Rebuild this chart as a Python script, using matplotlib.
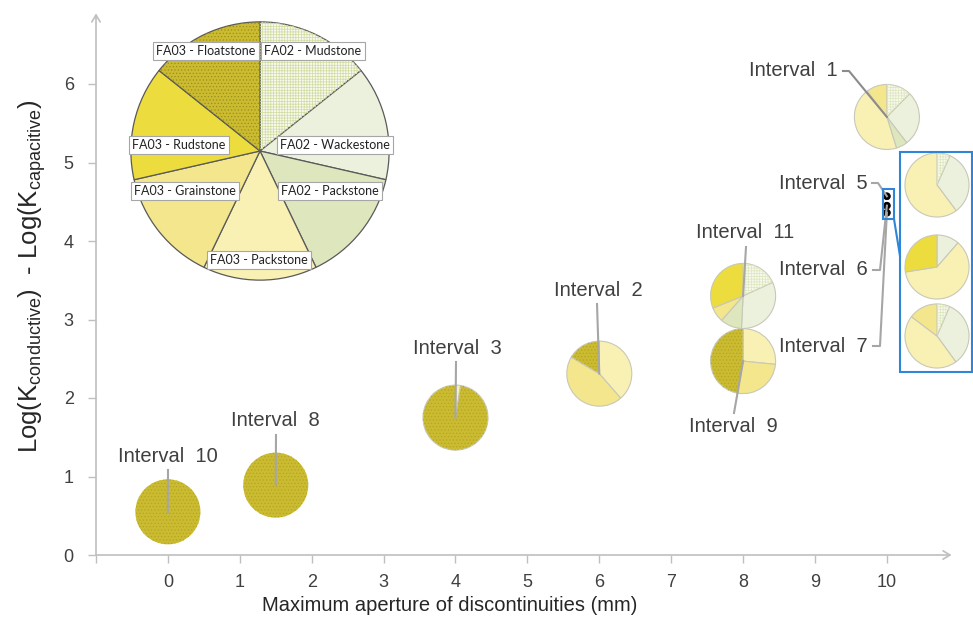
import matplotlib
matplotlib.use("Agg")
import matplotlib.pyplot as plt
from matplotlib.patches import Wedge, Rectangle
import numpy as np

plt.rcParams["font.family"] = ["Liberation Sans", "DejaVu Sans"]
plt.rcParams["mathtext.fontset"] = "custom"
plt.rcParams["mathtext.rm"] = "Liberation Sans"
plt.rcParams["mathtext.it"] = "Liberation Sans:italic"
plt.rcParams["hatch.linewidth"] = 0.5

# ---- data -------------------------------------------------------------
facies = ["FA02 - Mudstone", "FA02 - Wackestone", "FA02 - Packstone",
          "FA03 - Packstone", "FA03 - Grainstone", "FA03 - Rudstone",
          "FA03 - Floatstone"]

intervals = ["Interval  10", "Interval  8", "Interval  3", "Interval  2",
             "Interval  11", "Interval  9", "Interval  1", "Interval  5",
             "Interval  6", "Interval  7"]
aperture_mm = [0, 1.5, 4, 6, 8, 8, 10, 10, 10, 10]
log_k_diff = [0.55, 0.89, 1.75, 2.31, 3.30, 2.47, 5.58, 4.57, 4.45, 4.36]

# facies share (%) in each interval, same order as `intervals`
fa02_mudstone   = [0, 0, 0,    0,    18.2, 0,    12.4, 6.7,  0,    6.5]
fa02_wackestone = [0, 0, 0,    0,    32.6, 0,    27.2, 33.1, 11.4, 33.5]
fa02_packstone  = [0, 0, 0,    0,    10.7, 0,    5.7,  0,    0,    0]
fa03_packstone  = [0, 0, 2.5,  38.6, 0,    26.6, 44.4, 60.2, 61.1, 45.3]
fa03_grainstone = [0, 0, 0,    44.9, 7.4,  26.2, 10.4, 0,    0,    14.7]
fa03_rudstone   = [0, 0, 0,    0,    31.1, 0,    0,    0,    27.5, 0]
fa03_floatstone = [100, 100, 97.5, 16.5, 0, 47.2, 0,    0,    0,    0]

# key pie: one equal slice per facies
key_shares = [1, 1, 1, 1, 1, 1, 1]

# ---- styling ----------------------------------------------------------
face_colors = ["#f7f9ee", "#ecf1dd", "#dde6bd", "#f9f1b4", "#f3e68c",
               "#eddc3e", "#cbbb30"]
hatches = ["++++++", None, None, None, None, None, "....."]
hatch_colors = ["#dde7bd", None, None, None, None, None, "#b3a524"]
key_hatch_colors = ["#d0dca0", None, None, None, None, None, "#9c8e18"]
GRID = "#bfbfbf"
TXT = "#404040"
LEAD = "#a6a6a6"
BLUE = "#2f86d6"

W, H = 973, 626
fig = plt.figure(figsize=(W / 100, H / 100), dpi=100)

# main axes placed so that x=-1..10.9 and y=0..6.9 fill the frame
x0_px, x1_px, y0_px = 96, 951.6, 555
y_top = 6.9
ypx_per_unit = 78.5
ax = fig.add_axes([x0_px / W, (H - y0_px) / H, (x1_px - x0_px) / W,
                   y_top * ypx_per_unit / H])
ax.set_xlim(-1, 10.9)
ax.set_ylim(0, y_top)
for s in ax.spines.values():
    s.set_visible(False)

ax.annotate("", xy=(0, 1), xytext=(0, 0), xycoords="axes fraction",
            arrowprops=dict(arrowstyle="->,head_length=0.5,head_width=0.3",
                            color=GRID, lw=1.2, shrinkA=0, shrinkB=0))
ax.annotate("", xy=(1, 0), xytext=(0, 0), xycoords="axes fraction",
            arrowprops=dict(arrowstyle="->,head_length=0.5,head_width=0.3",
                            color=GRID, lw=1.2, shrinkA=0, shrinkB=0))

xt = list(range(-1, 11))
ax.set_xticks(xt)
ax.set_xticklabels([""] + [str(v) for v in range(0, 11)])
ax.set_yticks(range(0, 7))
ax.tick_params(axis="both", length=6, width=1, color=GRID, labelsize=13,
               labelcolor=TXT, direction="out")
ax.tick_params(axis="x", pad=8)
ax.tick_params(axis="y", pad=10)

ax.set_xlabel("Maximum aperture of discontinuities (mm)", fontsize=14.5,
              color="#262626")
ax.xaxis.set_label_coords((450 - x0_px) / (x1_px - x0_px), -0.075)
ax.set_ylabel(r"Log(K$_{\mathrm{conductive}}$)  - Log(K$_{\mathrm{capacitive}}$)",
              fontsize=18.5, color="#262626")
ax.yaxis.set_label_coords(-0.056, 0.515)

xpx_per_unit = (x1_px - x0_px) / 11.9


def draw_pie(pax, values, edge, lw, hcols=hatch_colors, solid=False):
    vals, cols, hs, hcs = [], [], [], []
    for i, v in enumerate(values):
        if v > 0:
            vals.append(v)
            cols.append("black" if solid else face_colors[i])
            hs.append(hatches[i])
            hcs.append(hcols[i])
    wedges, _ = pax.pie(vals, colors=cols, startangle=90, counterclock=False,
                        radius=1, wedgeprops=dict(edgecolor=edge, linewidth=lw))
    if not solid:
        for w, h, hc in zip(wedges, hs, hcs):
            if h:
                pax.add_patch(Wedge(w.center, w.r, w.theta1, w.theta2,
                                    facecolor="none", edgecolor=hc,
                                    linewidth=0, hatch=h))
    if len(vals) == 1:
        for w in wedges:
            w.set_linewidth(0)
    pax.set_xlim(-1.03, 1.03)
    pax.set_ylim(-1.03, 1.03)
    pax.set_aspect("equal")
    pax.axis("off")


series = [fa02_mudstone, fa02_wackestone, fa02_packstone, fa03_packstone,
          fa03_grainstone, fa03_rudstone, fa03_floatstone]

# pies at their (aperture, log-K) positions
for k, name in enumerate(intervals):
    d = 67 if k < 7 else 7
    w = d / xpx_per_unit
    h = d / ypx_per_unit
    x, y = aperture_mm[k], log_k_diff[k]
    pax = ax.inset_axes([x - w / 2, y - h / 2, w, h], transform=ax.transData)
    vals = [s[k] for s in series]
    if k < 7:
        draw_pie(pax, vals, "#c8c8b8", 0.8)
    else:
        draw_pie(pax, vals, "black", 0.6, solid=True)


def px(xp, yp):
    """pixel (from top-left) -> data coordinates of the main axes"""
    return ax.transData.inverted().transform((xp, H - yp))


# interval labels and leader lines
label_pos = [(168, 457, "center"), (275, 421, "center"), (457, 349, "center"),
             (598, 291, "center"), (745, 233, "center"), (733, 427, "center"),
             (838, 71, "right"), (868, 183, "right"), (868, 270, "right"),
             (868, 346, "right")]
leader_start = [[(168, 470)], [(276, 435)], [(456, 362)], [(597, 304)],
                [(746, 247)], [(734, 413)], [(843, 71), (849, 71)],
                [(872, 183), (878, 183)], [(873, 270), (880, 270)],
                [(873, 346), (880, 346)]]
for k, name in enumerate(intervals):
    lx, ly, ha = label_pos[k]
    fig.text(lx / W, 1 - ly / H, name, ha=ha, va="center", fontsize=14.5,
             color=TXT)
    pts = [px(*p) for p in leader_start[k]] + [(aperture_mm[k], log_k_diff[k])]
    pts = np.array(pts)
    ax.plot(pts[:, 0], pts[:, 1], color="#8c8c8c" if k == 6 else LEAD,
            lw=1.5, clip_on=False, zorder=8)

# enlarged view of intervals 5, 6 and 7
ax.add_patch(Rectangle(px(883, 219), (894 - 883) / xpx_per_unit,
                       (219 - 189) / ypx_per_unit, facecolor="none",
                       edgecolor=BLUE, lw=1.5, clip_on=False, zorder=9))
c = np.array([px(894, 219), px(900, 256)])
ax.plot(c[:, 0], c[:, 1], color=BLUE, lw=1.5, clip_on=False, zorder=9)
fig.patches.append(Rectangle((900 / W, 1 - 372 / H), 72 / W, 220 / H,
                             transform=fig.transFigure, facecolor="none",
                             edgecolor=BLUE, lw=1.5, zorder=9))
zoom_centers = [(937, 185), (937, 267), (937, 336)]
for j, k in enumerate([7, 8, 9]):
    cx, cy = zoom_centers[j]
    d = 66
    pax = fig.add_axes([(cx - d / 2) / W, 1 - (cy + d / 2) / H, d / W, d / H])
    draw_pie(pax, [s[k] for s in series], "#c8c8b8", 0.8)

# facies key
kc, kd = (260, 151), 266
kax = fig.add_axes([(kc[0] - kd / 2) / W, 1 - (kc[1] + kd / 2) / H,
                    kd / W, kd / H])
draw_pie(kax, key_shares, "#595959", 0.9, hcols=key_hatch_colors)
key_label_pos = [(313, 51), (335, 145), (330, 191), (259, 260), (185, 191),
                 (179, 145), (206, 51)]
for name, (lx, ly) in zip(facies, key_label_pos):
    fig.text(lx / W, 1 - ly / H, name, ha="center", va="center", fontsize=9,
             family=["Lato", "DejaVu Sans"], color="#222222", zorder=10,
             bbox=dict(boxstyle="square,pad=0.25", fc="white", ec="#a6a6a6",
                       lw=0.8))

fig.savefig("out.png", dpi=100)
